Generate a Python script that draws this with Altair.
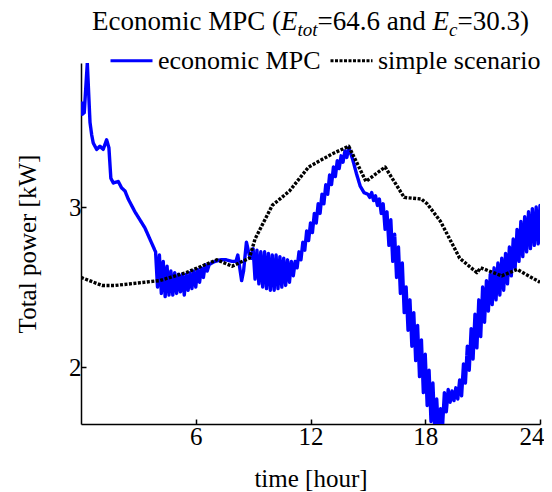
import altair as alt
import pandas as pd

# ---- data ----
series_names = ["economic MPC", "simple scenario"]
x_ticks = [6, 12, 18, 24]
y_ticks = [2, 3]

econ_t = [0.07, 0.07, 0.17, 0.33, 0.47, 0.56, 0.64, 0.82, 0.99, 1.16, 1.34, 1.46, 1.56, 1.69, 1.95,
          2.12, 2.30, 2.47, 2.82, 3.34, 3.86,
          3.9, 4.0, 4.1, 4.2, 4.3, 4.4, 4.5, 4.6, 4.7, 4.8, 4.9, 5.0, 5.1, 5.2, 5.3, 5.4, 5.5, 5.6,
          5.7, 5.8, 5.9, 6.0, 6.1, 6.2, 6.3, 6.4, 6.5, 6.6, 6.7,
          7.0, 7.3, 7.6, 7.9, 8.1, 8.2, 8.3, 8.4, 8.5, 8.65, 8.8, 8.9,
          9.0, 9.1, 9.2, 9.3, 9.4, 9.5, 9.6, 9.7, 9.8, 9.9, 10.0, 10.1, 10.2, 10.3, 10.4, 10.5,
          10.6, 10.7, 10.8, 10.9, 11.0, 11.1, 11.2,
          11.3, 11.4, 11.5, 11.6, 11.7, 11.8, 11.9, 12.0, 12.1, 12.2, 12.3, 12.4, 12.5, 12.6, 12.7,
          12.8, 12.9, 13.0, 13.1, 13.2, 13.3, 13.4, 13.5, 13.6, 13.7, 13.8, 13.9, 14.0,
          14.2, 14.4, 14.6, 14.8, 15.0, 15.1, 15.2, 15.3, 15.4, 15.5, 15.6, 15.7, 15.8, 15.9,
          16.0, 16.1, 16.2, 16.3, 16.4, 16.5, 16.6, 16.7, 16.8, 16.9, 17.0, 17.1, 17.2, 17.3, 17.4,
          17.5, 17.6, 17.7, 17.8, 17.9, 18.0, 18.1, 18.2, 18.3, 18.4, 18.5, 18.6, 18.7, 18.8, 18.9,
          19.0, 19.1, 19.2, 19.3, 19.4, 19.5, 19.6, 19.7, 19.8, 19.9, 20.0, 20.1, 20.2, 20.3, 20.4,
          20.5, 20.6, 20.7, 20.8, 20.9, 21.0, 21.1, 21.2, 21.3, 21.4, 21.5, 21.6, 21.7, 21.8, 21.9,
          22.0, 22.1, 22.2, 22.3, 22.4, 22.5, 22.6, 22.7, 22.8, 22.9, 23.0, 23.1, 23.2, 23.3, 23.4,
          23.5, 23.6, 23.7, 23.8, 23.9, 24.0, 24.0]
econ_v = [3.66, 3.58, 3.59, 3.90, 3.53, 3.45, 3.40, 3.36, 3.38, 3.36, 3.42, 3.37, 3.18, 3.15, 3.16,
          3.12, 3.10, 3.05, 2.97, 2.87, 2.73,
          2.72, 2.50, 2.70, 2.46, 2.66, 2.44, 2.63, 2.45, 2.60, 2.45, 2.59, 2.46, 2.58, 2.47, 2.58,
          2.45, 2.58, 2.48, 2.59, 2.49, 2.60, 2.50, 2.61, 2.53, 2.62, 2.56, 2.64, 2.60, 2.64,
          2.66, 2.67, 2.67, 2.66, 2.66, 2.70, 2.62, 2.54, 2.60, 2.78, 2.70, 2.68,
          2.74, 2.55, 2.73, 2.52, 2.72, 2.50, 2.72, 2.49, 2.71, 2.48, 2.70, 2.48, 2.70, 2.49, 2.69,
          2.50, 2.68, 2.51, 2.67, 2.53, 2.66, 2.57, 2.66,
          2.62, 2.72, 2.67, 2.78, 2.73, 2.85, 2.79, 2.90, 2.84, 2.96, 2.90, 3.02, 2.96, 3.08, 3.02,
          3.14, 3.08, 3.20, 3.14, 3.25, 3.19, 3.29, 3.24, 3.32, 3.28, 3.35, 3.31, 3.37,
          3.30, 3.21, 3.13, 3.09, 3.08, 3.06, 3.09, 3.04, 3.07, 3.01, 3.05, 2.96, 3.02, 2.86,
          2.97, 2.76, 2.92, 2.66, 2.83, 2.56, 2.75, 2.46, 2.65, 2.34, 2.50, 2.23, 2.42, 2.13, 2.34,
          2.04, 2.26, 1.94, 2.17, 1.84, 2.08, 1.76, 1.98, 1.66, 1.90, 1.60, 1.80, 1.56, 1.74, 1.62,
          1.84, 1.72, 1.86, 1.78, 1.85, 1.79, 1.87, 1.80, 1.92, 1.82, 2.02, 1.90, 2.13, 1.98, 2.24,
          2.05, 2.33, 2.12, 2.42, 2.19, 2.50, 2.28, 2.54, 2.35, 2.58, 2.39, 2.62, 2.42, 2.65, 2.45,
          2.68, 2.48, 2.71, 2.52, 2.75, 2.57, 2.80, 2.62, 2.86, 2.66, 2.91, 2.69, 2.94, 2.72, 2.97,
          2.74, 2.99, 2.76, 3.00, 2.77, 3.01, 2.77]

simple_t = [0, 1.1, 1.8, 4.1, 5.5, 7.1, 7.9, 8.8, 9.1, 10.0, 10.9, 11.9, 13.1, 14.0, 14.9, 15.9,
            16.9, 17.8, 18.1, 18.8, 19.8, 20.7, 20.9, 22.0, 22.8, 24.0]
simple_v = [2.56, 2.51, 2.51, 2.54, 2.59, 2.67, 2.63, 2.68, 2.80, 3.01, 3.10, 3.25, 3.33, 3.38, 3.16,
            3.25, 3.06, 3.05, 3.02, 2.91, 2.68, 2.59, 2.62, 2.57, 2.61, 2.53]

df = pd.concat([
    pd.DataFrame({"t": econ_t, "v": econ_v, "series": series_names[0], "i": range(len(econ_t))}),
    pd.DataFrame({"t": simple_t, "v": simple_v, "series": series_names[1], "i": range(len(simple_t))}),
], ignore_index=True)

FONT = "Liberation Serif"
W, H = 459, 361

legend = alt.Legend(
    orient="none", legendX=28, legendY=-25, direction="horizontal", title=None,
    symbolType="stroke", symbolSize=1764, symbolStrokeWidth=3,
    labelFont=FONT, labelFontSize=26, labelColor="black", labelOffset=4, labelLimit=400,
    columnPadding=3, padding=0,
)

lines = alt.Chart(df).mark_line(clip=True, strokeWidth=3.4, strokeJoin="round").encode(
    x=alt.X("t:Q", scale=alt.Scale(domain=[0, 24], nice=False, zero=False),
            axis=alt.Axis(values=x_ticks, title="time [hour]", labelPadding=5,
                          labelFlush=True, labelFlushOffset=4,
                          titleY=62, titleBaseline="alphabetic")),
    y=alt.Y("v:Q", scale=alt.Scale(domain=[1.644, 3.9], nice=False, zero=False),
            axis=alt.Axis(values=y_ticks, format="d", title="Total power [kW]", labelPadding=5,
                          labelFlush=False,
                          titleX=-41, titleY=H / 2, titleAngle=-90, titleBaseline="bottom",
                          titleAlign="center")),
    color=alt.Color("series:N", scale=alt.Scale(domain=series_names, range=["#0000ff", "#000000"]),
                    legend=legend),
    strokeDash=alt.StrokeDash("series:N", scale=alt.Scale(domain=series_names, range=[[1, 0], [3, 1.5]]),
                              legend=legend),
    order="i:Q",
)

one = pd.DataFrame({"a": [0]})


def piece(text, x, dy=0, italic=False, size=27):
    return alt.Chart(one).mark_text(
        text=text, align="left", baseline="alphabetic", font=FONT, fontSize=size,
        fontStyle="italic" if italic else "normal", color="black",
    ).encode(x=alt.value(x), y=alt.value(-33 + dy))


title_layers = [
    piece("Economic MPC (", 11.0),
    piece("E", 200.0, italic=True),
    piece("tot", 216.5, dy=6, italic=True, size=19),
    piece("=64.6 and ", 236.5),
    piece("E", 351.5, italic=True),
    piece("c", 368.0, dy=6, italic=True, size=19),
    piece("=30.3)", 376.4),
]

chart = alt.layer(lines, *title_layers).properties(
    width=W, height=H,
    autosize=alt.AutoSizeParams(type="none"),
    padding={"left": 73, "top": 55, "right": 4, "bottom": 68},
).configure_view(stroke=None).configure_axis(
    grid=False, domainColor="black", domainWidth=1.5, tickColor="black", tickWidth=1.5,
    tickSize={"expr": "-5"},
    labelFont=FONT, labelFontSize=25, labelColor="black",
    titleFont=FONT, titleFontSize=25, titleFontWeight="normal", titleColor="black",
)

chart.save("out.html", embed_options={"renderer": "svg", "actions": False})
